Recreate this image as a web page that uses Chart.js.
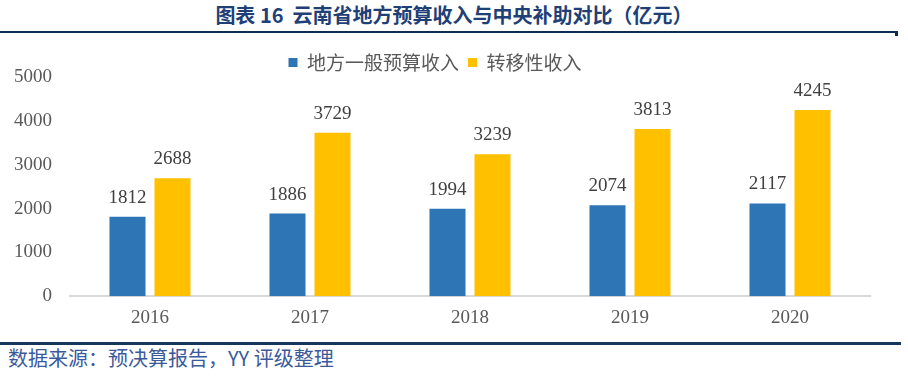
<!DOCTYPE html>
<html>
<head>
<meta charset="utf-8">
<script src="https://cdn.jsdelivr.net/npm/chart.js@4.4.1/dist/chart.umd.min.js"></script>
<style>
  html, body { margin: 0; padding: 0; background: #fff; }
  body { width: 908px; height: 377px; position: relative; overflow: hidden; }
  .title {
    position: absolute; left: 0; top: 3px; width: 908px; text-align: center;
    font-family: 'Noto Sans CJK SC', sans-serif; font-weight: bold; font-size: 20px;
    color: #1F3F77; line-height: 24px;
  }
  .rule-top { position: absolute; left: 0; top: 31px; width: 897px; height: 2px; background: #0E2B50; }
  .rule-top-end { position: absolute; left: 895px; top: 31px; width: 3px; height: 5px; background: #0E2B50; }
  .rule-bottom { position: absolute; left: 0; top: 342px; width: 901px; height: 3px; background: #16365C; }
  .source {
    position: absolute; left: 8px; top: 346px;
    font-family: 'Noto Sans CJK SC', sans-serif; font-size: 20px; color: #3A5A9C; line-height: 24px;
  }
  .wrap { position: absolute; left: 0; top: 40px; width: 908px; height: 299px; }
</style>
</head>
<body>
<div class="title">图表 16&nbsp; 云南省地方预算收入与中央补助对比（亿元）</div>
<div class="rule-top"></div>
<div class="rule-top-end"></div>
<div class="wrap"><canvas id="chart"></canvas></div>
<div class="rule-bottom"></div>
<div class="source">数据来源：预决算报告，YY 评级整理</div>

<script>
// 云南省 地方一般预算收入 vs 转移性收入 (亿元)

const years = ['2016', '2017', '2018', '2019', '2020'];
const localRevenue = [1812, 1886, 1994, 2074, 2117];
const transferRevenue = [2688, 3729, 3239, 3813, 4245];
const yTicks = [0, 1000, 2000, 3000, 4000, 5000];

const SERIF = "'Liberation Serif', 'Times New Roman', serif";
const CJK = "'Noto Sans CJK SC', sans-serif";

// value labels above each bar
const barValueLabels = {
  id: 'barValueLabels',
  afterDatasetsDraw(chart) {
    const ctx = chart.ctx;
    ctx.save();
    ctx.font = '19px ' + SERIF;
    ctx.fillStyle = '#404040';
    ctx.textAlign = 'center';
    ctx.textBaseline = 'alphabetic';
    chart.data.datasets.forEach((ds, i) => {
      chart.getDatasetMeta(i).data.forEach((bar, j) => {
        ctx.fillText(String(ds.data[j]), bar.x, bar.y - 14);
      });
    });
    ctx.restore();
  }
};

// trim the space under the legend so the plot starts where the reference does
const legendSpacer = {
  id: 'legendSpacer',
  beforeInit(chart) {
    const fit = chart.legend.fit;
    chart.legend.fit = function() {
      fit.bind(chart.legend)();
      this.height -= 5;
    };
  }
};

new Chart(document.getElementById('chart').getContext('2d'), {
  type: 'bar',
  data: {
    labels: years,
    datasets: [
      {
        label: '地方一般预算收入',
        data: localRevenue,
        backgroundColor: '#2E75B6',
        categoryPercentage: 0.5625,
        barPercentage: 0.8
      },
      {
        label: '转移性收入',
        data: transferRevenue,
        backgroundColor: '#FFC000',
        categoryPercentage: 0.5625,
        barPercentage: 0.8
      }
    ]
  },
  options: {
    responsive: true,
    maintainAspectRatio: false,
    animation: false,
    layout: { padding: { top: 4, right: 38, left: 0, bottom: 0 } },
    plugins: {
      legend: {
        display: true,
        position: 'top',
        labels: {
          boxWidth: 9,
          boxHeight: 9,
          padding: 9,
          color: '#595959',
          font: { family: CJK, size: 19 }
        }
      },
      tooltip: { enabled: false }
    },
    scales: {
      x: {
        grid: { display: false, drawTicks: false },
        border: { display: true, color: '#D9D9D9', width: 2 },
        ticks: {
          color: '#595959',
          padding: 10,
          font: { family: SERIF, size: 19 }
        }
      },
      y: {
        min: 0,
        max: 5000,
        afterBuildTicks: axis => { axis.ticks = yTicks.map(v => ({ value: v })); },
        afterFit: axis => { axis.width = 70; },
        grid: { display: false, drawTicks: false },
        border: { display: false },
        ticks: {
          color: '#595959',
          padding: 18,
          font: { family: SERIF, size: 19 },
          callback: v => String(v)
        }
      }
    }
  },
  plugins: [barValueLabels, legendSpacer]
});
</script>
</body>
</html>
